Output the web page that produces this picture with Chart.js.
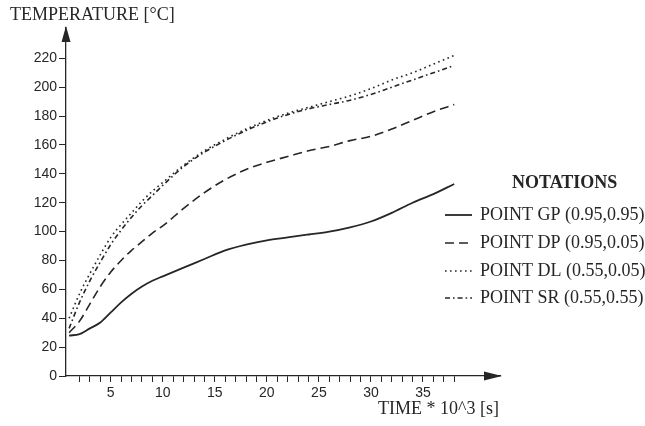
<!DOCTYPE html>
<html>
<head>
<meta charset="utf-8">
<script src="https://cdn.jsdelivr.net/npm/chart.js@4.4.1/dist/chart.umd.min.js"></script>
<style>
  html, body { margin: 0; padding: 0; background: #fff; }
  #wrap { width: 645px; height: 426px; position: relative; }
</style>
</head>
<body>
<div id="wrap"><canvas id="chart"></canvas></div>
<script>
// time * 10^3 s
const timeValues = [1, 2, 3, 4, 5, 6, 7, 8, 9, 10, 12, 14, 16, 18, 20, 22, 24, 26, 28, 30, 32, 34, 36, 38];

// temperatures in deg C
const pointGP = [28, 29, 33, 37, 44, 51, 57, 62, 66, 69, 75, 81, 87, 91, 94, 96, 98, 100, 103, 107, 113, 120, 126, 133];
const pointDP = [30, 38, 50, 62, 72, 80, 87, 93, 99, 104, 116, 127, 136, 143, 148, 152, 156, 159, 163, 166, 171, 177, 183, 188];
const pointDL = [40, 57, 71, 84, 96, 105, 113, 121, 128, 134, 146, 156, 164, 171, 177, 182, 186, 190, 194, 199, 205, 210, 216, 222];
const pointSR = [33, 51, 66, 79, 91, 101, 110, 118, 125, 132, 145, 155, 163, 170, 176, 181, 185, 188, 191, 195, 200, 205, 210, 215];

const seriesLabels = ['POINT GP (0.95,0.95)', 'POINT DP (0.95,0.05)', 'POINT DL (0.55,0.05)', 'POINT SR (0.55,0.55)'];
const xLabelSteps = [5, 10, 15, 20, 25, 30, 35];
const yLabelMax = 220;

const INK = '#262626';
const SERIF = '"Liberation Serif", "DejaVu Serif", serif';
const SANS = '"Liberation Sans", Arial, sans-serif';

function makeSet(label, values, dash, width) {
    return {
        label: label,
        data: timeValues.map((t, i) => ({ x: t, y: values[i] })),
        borderColor: INK,
        borderWidth: width,
        borderDash: dash,
        pointRadius: 0,
        fill: false,
        cubicInterpolationMode: 'monotone'
    };
}

// axis arrows, titles and the notation block
const decorations = {
    id: 'decorations',
    afterDraw(chart) {
        const ctx = chart.ctx;
        const xs = chart.scales.x;
        const ys = chart.scales.y;
        const x0 = xs.left;
        const y0 = ys.bottom;
        const xEnd = xs.right;
        const yEnd = ys.top;

        ctx.save();
        ctx.fillStyle = INK;
        // y arrow
        ctx.beginPath();
        ctx.moveTo(x0, yEnd - 2);
        ctx.lineTo(x0 - 4.5, yEnd + 14);
        ctx.lineTo(x0 + 4.5, yEnd + 14);
        ctx.closePath();
        ctx.fill();
        // x arrow
        ctx.beginPath();
        ctx.moveTo(xEnd + 2, y0);
        ctx.lineTo(xEnd - 16, y0 - 4.5);
        ctx.lineTo(xEnd - 16, y0 + 4.5);
        ctx.closePath();
        ctx.fill();

        ctx.font = '18px ' + SERIF;
        ctx.textBaseline = 'middle';
        ctx.textAlign = 'left';
        ctx.fillText('TEMPERATURE [°C]', 10, 15);
        ctx.fillText('TIME * 10^3 [s]', 378, 409);

        // notation block
        ctx.font = 'bold 18px ' + SERIF;
        ctx.fillText('NOTATIONS', 512, 183);
        ctx.font = '18px ' + SERIF;
        const rows = [215, 243, 271, 298];
        chart.data.datasets.forEach((ds, i) => {
            const y = rows[i];
            ctx.strokeStyle = ds.borderColor;
            ctx.lineWidth = ds.borderWidth;
            ctx.setLineDash(ds.borderDash || []);
            ctx.beginPath();
            ctx.moveTo(445, y);
            ctx.lineTo(472, y);
            ctx.stroke();
            ctx.setLineDash([]);
            ctx.fillText(ds.label, 480, y);
        });
        ctx.restore();
    }
};

const ctx = document.getElementById('chart').getContext('2d');
new Chart(ctx, {
    type: 'line',
    data: {
        datasets: [
            makeSet(seriesLabels[0], pointGP, [], 1.8),
            makeSet(seriesLabels[1], pointDP, [9, 5], 1.6),
            makeSet(seriesLabels[2], pointDL, [1.6, 3.4], 1.6),
            makeSet(seriesLabels[3], pointSR, [5, 3, 1.6, 3], 1.6)
        ]
    },
    options: {
        responsive: true,
        maintainAspectRatio: false,
        animation: false,
        layout: { padding: { top: 28, right: 145, left: 0, bottom: 0 } },
        plugins: {
            legend: { display: false },
            tooltip: { enabled: false }
        },
        scales: {
            x: {
                type: 'linear',
                min: 0.7,
                max: 42.4,
                afterFit(scale) { scale.height = 50; },
                afterBuildTicks(scale) {
                    scale.ticks = scale.ticks.filter(t => Number.isInteger(t.value) && t.value >= 1 && t.value <= 38);
                },
                ticks: {
                    stepSize: 1,
                    autoSkip: false,
                    maxRotation: 0,
                    padding: 3,
                    color: INK,
                    font: { family: SANS, size: 14 },
                    callback: v => xLabelSteps.includes(v) ? String(v) : ''
                },
                grid: { drawOnChartArea: false, tickLength: 6, color: INK, lineWidth: 1 },
                border: { color: INK, width: 1.3 }
            },
            y: {
                min: 0,
                max: 241,
                afterFit(scale) { scale.width = 66; },
                afterBuildTicks(scale) {
                    scale.ticks = scale.ticks.filter(t => t.value % 20 === 0 && t.value <= yLabelMax);
                },
                ticks: {
                    stepSize: 20,
                    padding: 2,
                    color: INK,
                    font: { family: SANS, size: 14 }
                },
                grid: { drawOnChartArea: false, tickLength: 7, color: INK, lineWidth: 1 },
                border: { color: INK, width: 1.3 }
            }
        }
    },
    plugins: [decorations]
});
</script>
</body>
</html>
